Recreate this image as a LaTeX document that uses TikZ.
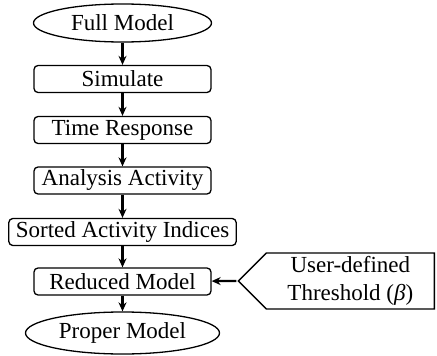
\documentclass[tikz,border=0pt]{standalone}
\usepackage{fontspec}
\setmainfont{Liberation Serif}
\usetikzlibrary{shapes.geometric,shapes.symbols,arrows.meta}
\begin{document}
\begin{tikzpicture}[x=1pt,y=1pt,
	every node/.style={font=\fontsize{23}{25}\selectfont},
	stepbox/.style={draw,rounded corners=4pt,line width=1.3pt,minimum width=177pt,minimum height=27pt,inner xsep=7pt,inner ysep=0pt},
	termbox/.style={draw,ellipse,line width=1.3pt,inner sep=0pt},
	flow/.style={-{Stealth[length=9pt,width=8pt]},line width=2.2pt}]
	\useasboundingbox (0,0) rectangle (437,-356);
	\def\cx{122.5}
	\node[termbox,minimum width=178pt,minimum height=38pt] (full) at (\cx,-23) {Full Model};
	\node[stepbox] (sim) at (\cx,-79) {Simulate};
	\node[stepbox] (time) at (\cx,-130) {Time Response};
	\node[stepbox] (anal) at (\cx,-180.5) {Analysis Activity};
	\node[stepbox] (sort) at (\cx,-232) {Sorted Activity Indices};
	\node[stepbox] (red) at (\cx,-281.5) {Reduced Model};
	\node[termbox,minimum width=194pt,minimum height=42pt] (prop) at (\cx,-333) {Proper Model};
%
	\node[draw,signal,signal to=west,signal pointer angle=90,line width=1.3pt,
		minimum width=196pt,minimum height=56pt,align=center,inner sep=0pt,anchor=east,
		font=\fontsize{23}{28}\selectfont] (thr) at (435,-281) {User-defined\\Threshold (\textit{β})};
%
	\draw[flow] (thr.west) ++(-1pt,0) coordinate (tip) (tip) -- (red);
	\draw[flow] (full) -- (sim);
	\draw[flow] (sim) -- (time);
	\draw[flow] (time) -- (anal);
	\draw[flow] (anal) -- (sort);
	\draw[flow] (sort) -- (red);
	\draw[flow] (red) -- (prop);
\end{tikzpicture}
\end{document}
